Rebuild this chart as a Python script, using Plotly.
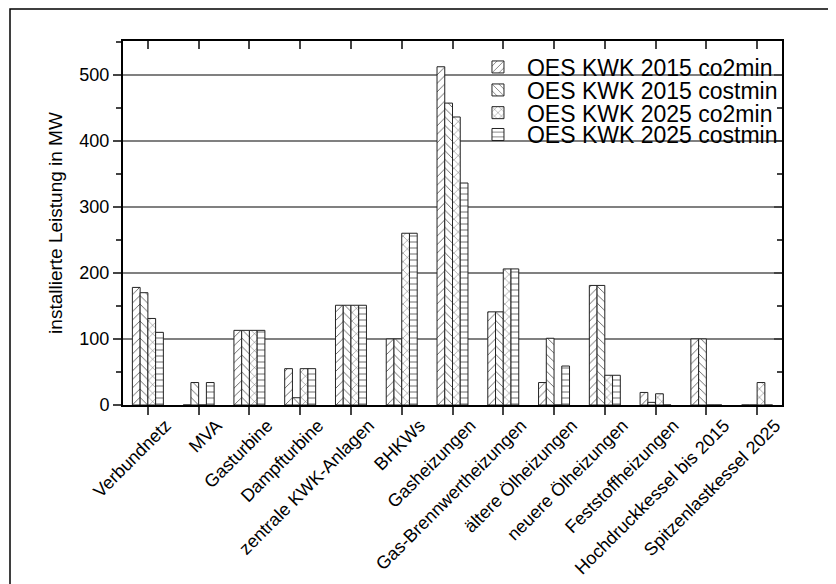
import plotly.graph_objects as go

categories = ["Verbundnetz", "MVA", "Gasturbine", "Dampfturbine", "zentrale KWK-Anlagen",
              "BHKWs", "Gasheizungen", "Gas-Brennwertheizungen", "ältere Ölheizungen",
              "neuere Ölheizungen", "Feststoffheizungen", "Hochdruckkessel bis 2015",
              "Spitzenlastkessel 2025"]
series_names = ["OES KWK 2015 co2min", "OES KWK 2015 costmin",
                "OES KWK 2025 co2min", "OES KWK 2025 costmin"]
kwk2015_co2min = [178, 0, 113, 55, 151, 100, 512, 141, 34, 181, 19, 100, 0]
kwk2015_costmin = [170, 34, 113, 11, 151, 100, 457, 141, 101, 181, 4, 100, 0]
kwk2025_co2min = [131, 0, 113, 55, 151, 260, 436, 206, 0, 45, 17, 0, 34]
kwk2025_costmin = [110, 34, 113, 55, 151, 260, 336, 206, 59, 45, 0, 0, 0]
y_ticks = [0, 100, 200, 300, 400, 500]

series = [kwk2015_co2min, kwk2015_costmin, kwk2025_co2min, kwk2025_costmin]
patterns = ["/", "\\", "x", "-"]
legend_ids = ["legend", "legend2", "legend3", "legend4"]
legend_y = [0.9286, 0.8654, 0.803, 0.743]

FONT = "Arial, Liberation Sans, sans-serif"
# page has an 8px body margin; figure is sized to fit the 836x584 window
W, H = 828, 576
L, R, T, B = 115, 54, 33, 179
PW = W - L - R
PH = H - T - B

fig = go.Figure()
for name, vals, pat, lid in zip(series_names, series, patterns, legend_ids):
    fig.add_trace(go.Bar(
        x=list(range(len(categories))), y=vals, name=name, legend=lid,
        marker=dict(color="white",
                    line=dict(color="#222", width=1),
                    pattern=dict(shape=pat, size=6, solidity=0.13,
                                 fgcolor="#444", bgcolor="white", fillmode="replace")),
    ))

legend_layout = {}
for lid, ly in zip(legend_ids, legend_y):
    legend_layout[lid] = dict(x=0.525, y=ly, xanchor="left", yanchor="middle",
                              bgcolor="rgba(0,0,0,0)", font=dict(size=23),
                              itemwidth=48)

fig.update_layout(
    width=W, height=H,
    margin=dict(l=L, r=R, t=T, b=B, autoexpand=False),
    paper_bgcolor="white", plot_bgcolor="white",
    barmode="group", bargap=0.39, bargroupgap=0,
    font=dict(family=FONT, size=18, color="black"),
    showlegend=True,
    xaxis=dict(range=[-0.49, 12.49], tickmode="array", automargin=False,
               tickvals=list(range(len(categories))), ticktext=categories,
               tickangle=-45, ticks="outside", ticklen=8, tickwidth=1.5,
               ticklabelshift=18, ticklabelstandoff=-7,
               showline=True, linecolor="black", linewidth=2, showgrid=False,
               zeroline=False, tickfont=dict(size=18)),
    yaxis=dict(range=[0, 551], tickmode="array", tickvals=y_ticks, automargin=False,
               ticks="outside", ticklen=8, tickwidth=1.5,
               minor=dict(tickvals=[50, 150, 250, 350, 450, 550], ticks="outside",
                          ticklen=5, tickwidth=1.5, showgrid=False),
               showline=True, linecolor="black", linewidth=2,
               showgrid=True, gridcolor="#808080", gridwidth=1.6,
               zeroline=False, tickfont=dict(size=18),
               title=dict(text="installierte Leistung in MW", font=dict(size=19), standoff=12)),
    xaxis2=dict(range=[-0.49, 12.49], overlaying="x", side="top", tickmode="array",
                automargin=False,
                tickvals=list(range(len(categories))), showticklabels=False,
                ticks="inside", ticklen=8, tickwidth=1.5, showline=True,
                linecolor="black", linewidth=2, showgrid=False, zeroline=False),
    yaxis2=dict(range=[0, 551], overlaying="y", side="right", tickmode="array",
                automargin=False,
                tickvals=y_ticks, showticklabels=False, ticks="inside", ticklen=8,
                tickwidth=1.5,
                minor=dict(tickvals=[50, 150, 250, 350, 450, 550], ticks="inside",
                           ticklen=5, tickwidth=1.5, showgrid=False),
                showline=True, linecolor="black", linewidth=2, showgrid=False,
                zeroline=False),
    **legend_layout,
)
# dummy invisible trace to activate the mirrored axes
fig.add_trace(go.Scatter(x=[None], y=[None], xaxis="x2", yaxis="y2",
                         showlegend=False, hoverinfo="skip"))

# outer frame (extends beyond the visible page on right/bottom)
fig.add_shape(type="rect", xref="paper", yref="paper",
              x0=(2 - L) / PW, x1=1.3, y0=-0.7, y1=(PH + T - 1) / PH,
              line=dict(color="black", width=1.5), fillcolor="rgba(0,0,0,0)", layer="below")

fig.write_html("out.html")
